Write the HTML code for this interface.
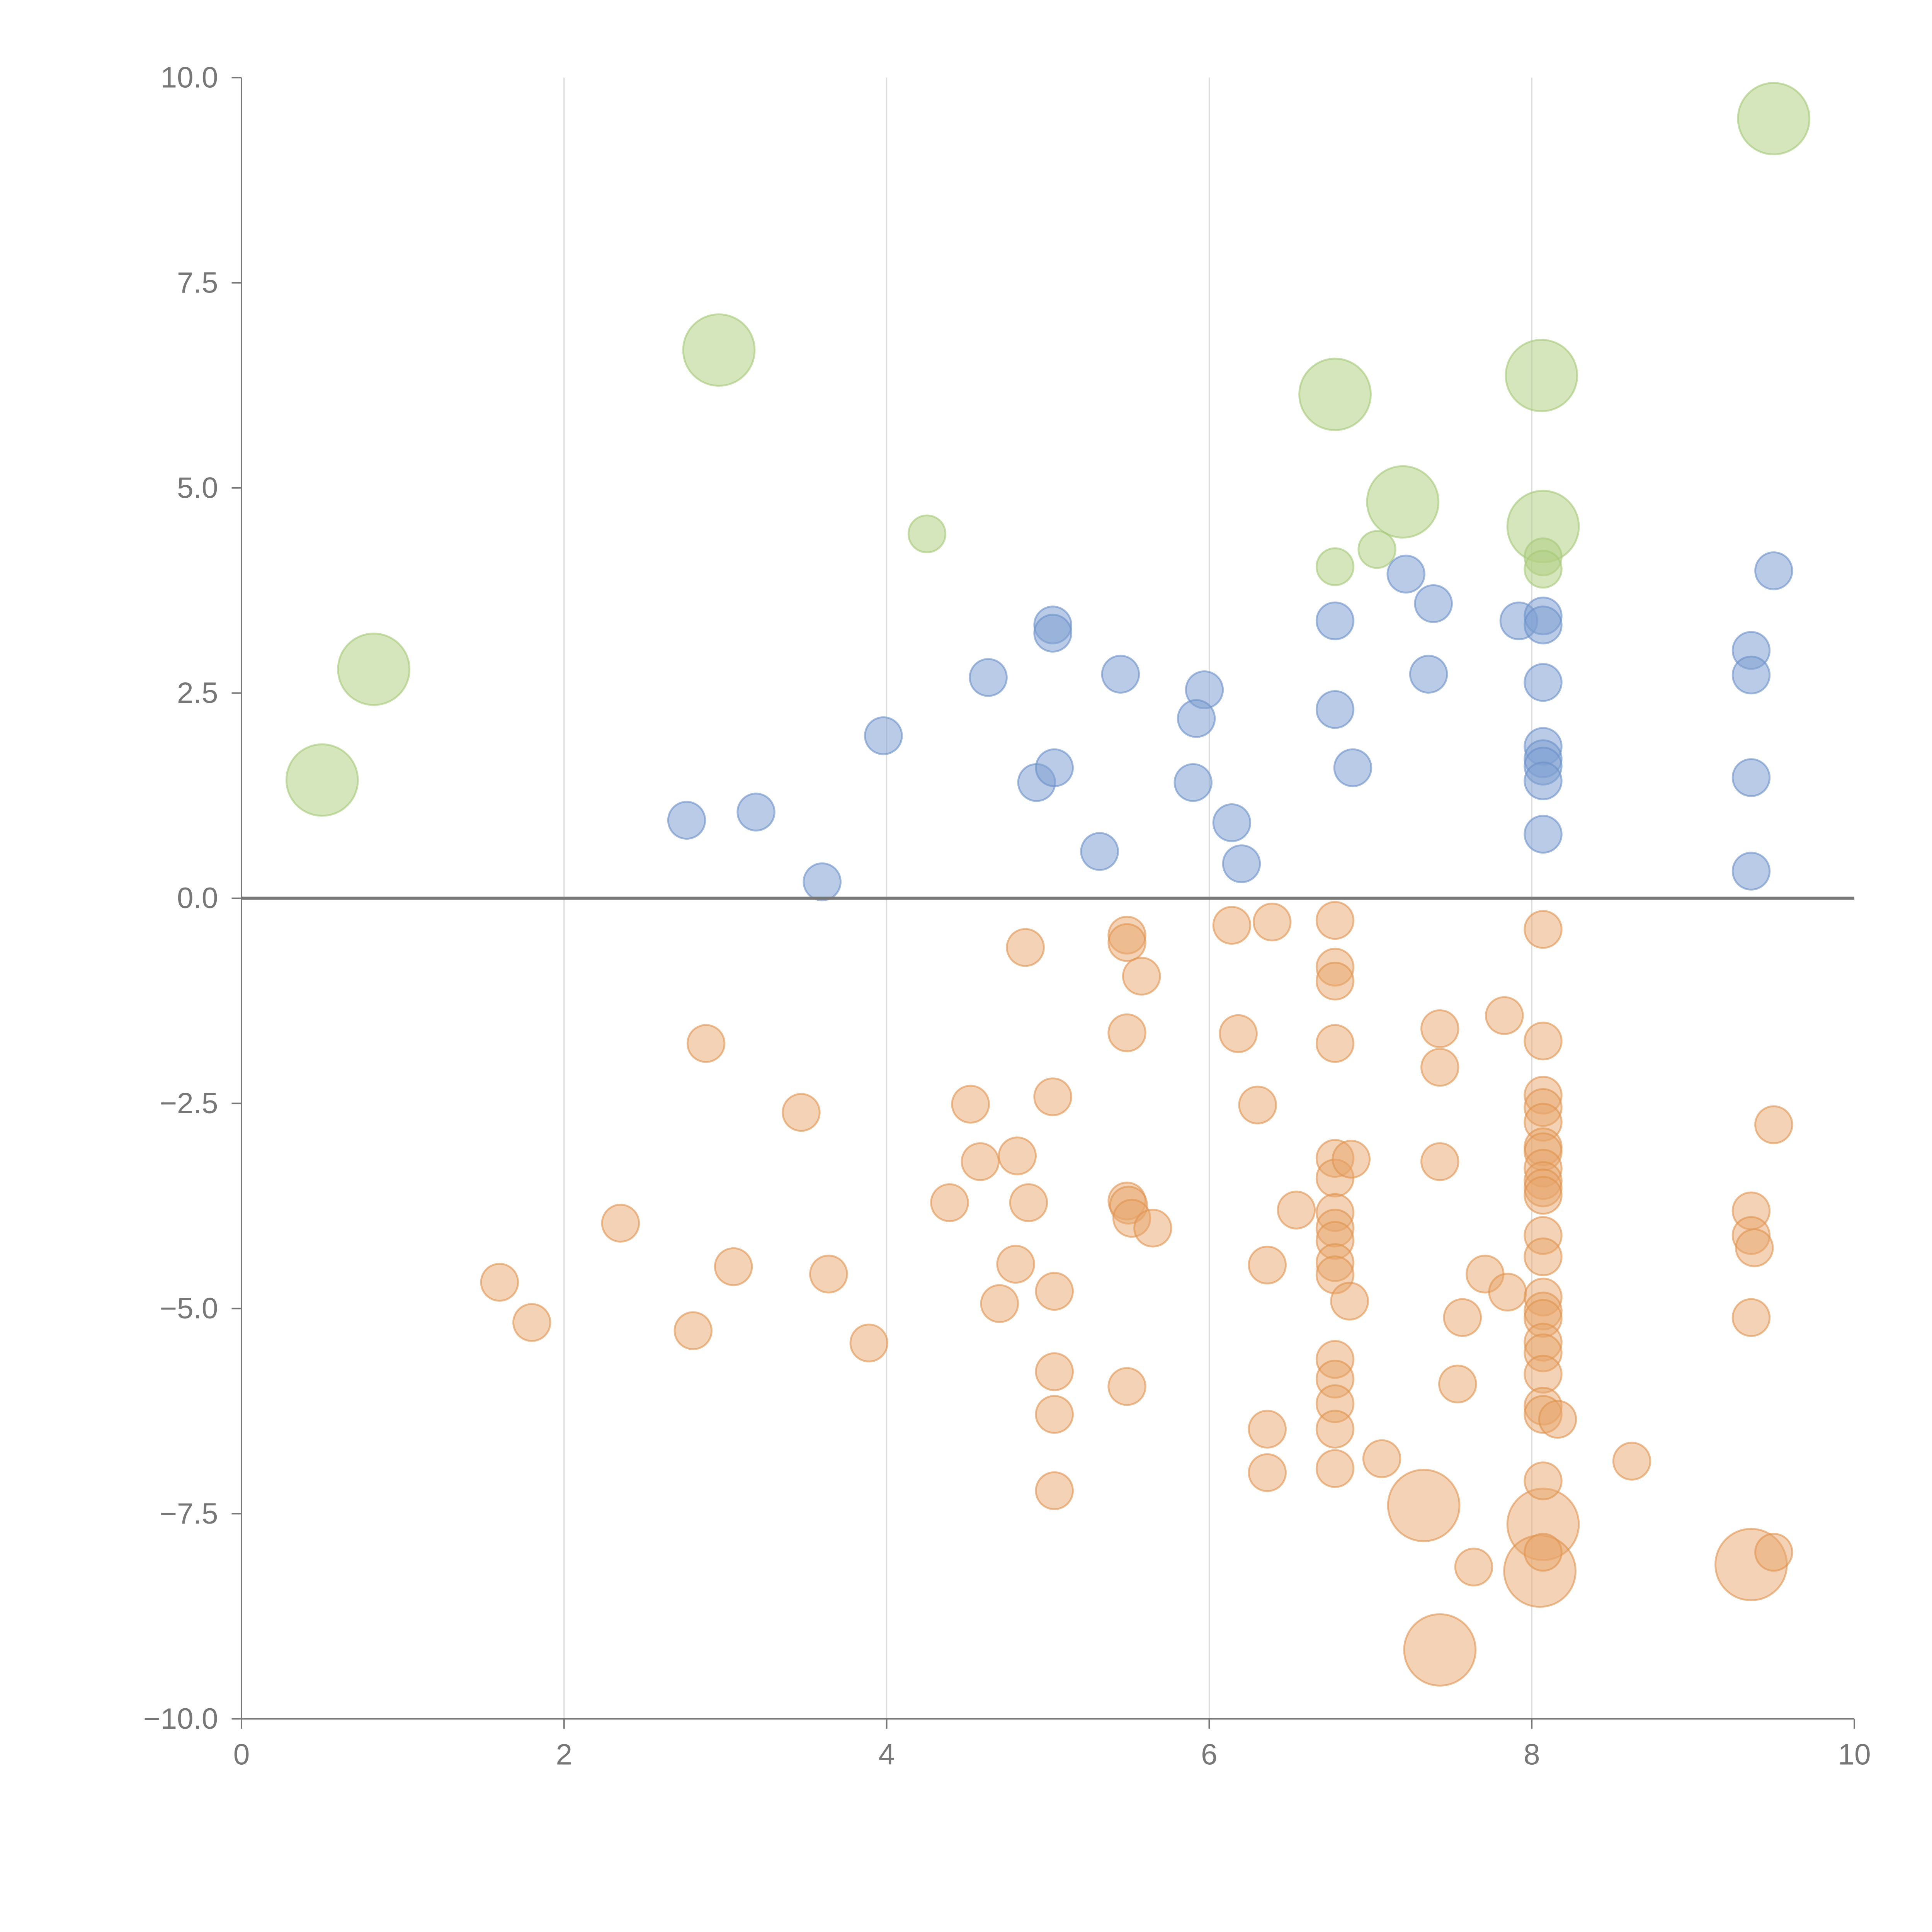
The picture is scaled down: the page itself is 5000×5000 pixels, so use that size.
<!DOCTYPE html>
<html><head><meta charset="utf-8"><style>
html,body{margin:0;padding:0;background:#fff;}
svg{display:block;}
text{font-family:"Liberation Sans",sans-serif;fill:#777;font-size:24px;}
</style></head><body>
<svg id="chart" width="5000" height="5000" viewBox="0 0 1568 1568" xmlns="http://www.w3.org/2000/svg">
<g id="grid"></g>
<g id="marks"></g>
<g id="axes"></g>
</svg>
<script>
const greenBigX=[0.50,0.82,2.96,6.78,8.06,7.20,8.07,9.50];
const greenBigY=[1.44,2.79,6.68,6.14,6.37,4.83,4.53,9.50];
const greenX=[4.25,7.04,6.78,8.07,8.07];
const greenY=[4.44,4.25,4.04,4.16,4.01];
const blueX=[2.76,3.19,3.60,3.98,4.63,5.03,5.03,4.93,5.04,5.32,5.45,5.97,5.92,5.90,6.14,6.20,6.78,6.78,6.89,7.22,7.39,7.36,7.92,8.07,8.07,8.07,8.07,8.07,8.07,8.07,8.07,9.36,9.36,9.36,9.36,9.50];
const blueY=[0.95,1.05,0.20,1.98,2.69,3.33,3.23,1.41,1.59,0.57,2.73,2.54,2.19,1.41,0.92,0.42,3.38,2.30,1.59,3.95,3.59,2.73,3.38,3.44,3.33,2.63,1.85,1.70,1.61,1.43,0.78,3.02,2.72,1.47,0.33,3.99];
const orangeBigX=[7.33,7.43,8.07,8.05,9.36];
const orangeBigY=[-7.40,-9.16,-7.63,-8.20,-8.12];
const orangeX=[
1.60,1.80,2.35,2.80,2.88,3.05,3.47,3.64,3.89,4.39,
4.52,4.58,4.81,4.88,4.80,4.70,4.86,5.03,5.04,5.04,
5.04,5.04,5.49,5.49,5.58,5.49,5.49,5.50,5.52,5.65,
5.49,6.14,6.39,6.18,6.30,6.54,6.36,6.36,6.36,6.78,
6.78,6.78,6.78,6.78,6.78,6.88,6.78,6.78,6.78,6.78,
6.78,6.87,6.78,6.78,6.78,6.78,6.78,7.07,7.43,7.43,
7.43,7.57,7.54,7.64,7.71,7.85,7.83,8.07,8.07,8.07,
8.07,8.07,8.07,8.07,8.07,8.07,8.07,8.07,8.07,8.07,
8.07,8.07,8.07,8.07,8.07,8.07,8.07,8.07,8.16,8.07,
8.07,8.62,9.36,9.36,9.38,9.36,9.50,9.50];
const orangeY=[
-4.68,-5.17,-3.96,-5.27,-1.77,-4.49,-2.61,-4.58,-5.42,-3.71,
-2.51,-3.21,-3.14,-3.71,-4.46,-4.94,-0.60,-2.42,-4.79,-5.77,
-6.29,-7.22,-0.45,-0.54,-0.95,-1.64,-3.69,-3.74,-3.90,-4.02,
-5.95,-0.33,-0.29,-1.65,-2.52,-3.80,-4.47,-6.47,-7.00,-0.27,
-0.84,-1.01,-1.77,-3.17,-3.41,-3.18,-3.83,-4.02,-4.17,-4.44,
-4.59,-4.91,-5.62,-5.86,-6.16,-6.47,-6.95,-6.83,-1.59,-2.06,
-3.21,-5.11,-5.92,-8.15,-4.58,-4.80,-1.43,-0.38,-1.74,-2.40,
-2.55,-2.73,-3.03,-3.09,-3.29,-3.44,-3.53,-3.62,-4.11,-4.37,
-4.86,-5.03,-5.12,-5.41,-5.54,-5.80,-6.19,-6.29,-6.35,-7.10,
-7.97,-6.86,-3.81,-4.11,-4.26,-5.11,-2.76,-7.97];
const xTicks=[0,2,4,6,8,10];
const yTicks=[10,7.5,5,2.5,0,-2.5,-5,-7.5,-10];
const yTickLabels=["10.0","7.5","5.0","2.5","0.0","\u22122.5","\u22125.0","\u22127.5","\u221210.0"];

const NS="http://www.w3.org/2000/svg";
const X0=196,X1=1505,Y0=63,Y1=1395;
function sx(v){return X0+(v-0)/(10-0)*(X1-X0);}
function sy(v){return Y1-(v+10)/20*(Y1-Y0);}
function mk(tag,attrs,parent){const e=document.createElementNS(NS,tag);for(const k in attrs)e.setAttribute(k,attrs[k]);parent.appendChild(e);return e;}
const grid=document.getElementById('grid'),marks=document.getElementById('marks'),axes=document.getElementById('axes');
xTicks.forEach(t=>{if(t>0&&t<10){const l=mk('line',{x1:sx(t),x2:sx(t),y1:Y0,y2:Y1,stroke:'#ddd','stroke-width':1},grid);

}});
function series(xs,ys,r,fill,stroke,op,name){
 xs.forEach((x,i)=>{const c=mk('circle',{cx:sx(x),cy:sy(ys[i]),r:r,fill:fill,'fill-opacity':op,stroke:stroke,'stroke-opacity':0.6,'stroke-width':1.5},marks);
 
 });
}
series(greenBigX,greenBigY,29,'#b3cf85','#a5c878',0.55,'green-bubble-large');
series(greenX,greenY,15,'#b3cf85','#a5c878',0.55,'green-bubble');
series(blueX,blueY,15,'#7fa0d2','#6a8fc8',0.55,'blue-bubble');
series(orangeBigX,orangeBigY,29,'#e8a56c','#e0924f',0.5,'orange-bubble-large');
series(orangeX,orangeY,15,'#e8a56c','#e0924f',0.5,'orange-bubble');
let a=mk('line',{x1:X0,x2:X0,y1:Y0,y2:Y1,stroke:'#777','stroke-width':1.2},axes);

a=mk('line',{x1:X0,x2:X1,y1:Y1,y2:Y1,stroke:'#777','stroke-width':1.2},axes);

a=mk('line',{x1:X0,x2:X1,y1:sy(0),y2:sy(0),stroke:'#777','stroke-width':2.5},axes);

xTicks.forEach(t=>{mk('line',{x1:sx(t),x2:sx(t),y1:Y1,y2:Y1+8,stroke:'#777','stroke-width':1.2},axes);
 const tx=mk('text',{x:sx(t),y:Y1+37,'text-anchor':'middle'},axes);tx.textContent=t;
 
 });
yTicks.forEach((t,i)=>{mk('line',{x1:X0-8,x2:X0,y1:sy(t),y2:sy(t),stroke:'#777','stroke-width':1.2},axes);
 const tx=mk('text',{x:X0-19,y:sy(t)+8,'text-anchor':'end'},axes);tx.textContent=yTickLabels[i];
 
 });
</script>
</body></html>
